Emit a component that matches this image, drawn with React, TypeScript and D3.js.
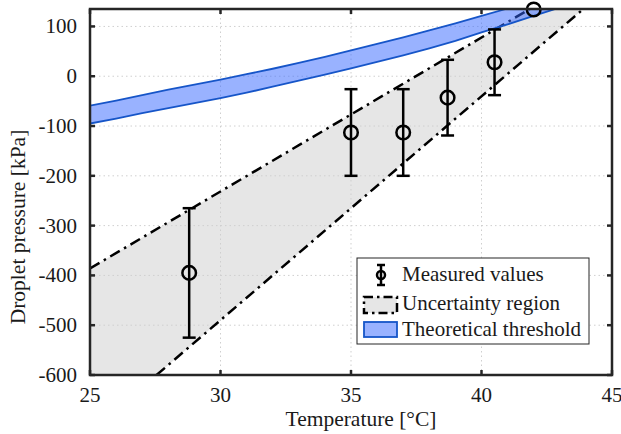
import React from 'react';
import * as d3 from 'd3';

const xTicks = [25, 30, 35, 40, 45];
const yTicks = [-600, -500, -400, -300, -200, -100, 0, 100];

const measTemp = [28.8, 35, 37, 38.7, 40.5, 42];
const measP = [-395, -113, -113, -43, 28, 134];
const measErr = [130, 87, 87, 76, 66, 0];

const bandTemp = [25, 26, 27, 28, 29, 30, 31, 32, 33, 34, 35, 36, 37, 38, 39, 40, 41, 42, 43];
const bandUpper = [-59, -49, -38, -27, -17, -7, 4, 15, 27, 39, 52, 65, 78, 92, 106, 121, 136, 151, 166];
const bandLower = [-95, -85, -74, -64, -54, -44, -33, -21, -9, 3, 16, 29, 42, 56, 71, 88, 104, 121, 138];

const uncUpperT = [25, 41.85];
const uncUpperP = [-386, 135];
const uncLowerT = [27.55, 43.9];
const uncLowerP = [-600, 135];

const legendLabels = ['Measured values', 'Uncertainty region', 'Theoretical threshold'];

const W = 621, H = 434;
const L = 90, R = 612, T = 9, B = 375;
const FONT = '"Liberation Serif", "Times New Roman", serif';
const AX = '#262626';
const BAND_FILL = '#3366ff';
const BAND_EDGE = '#1655c8';
const DASHDOT = '11,5,2.5,5';

export default function App() {
  const x = d3.scaleLinear().domain([25, 45]).range([L, R]);
  const y = d3.scaleLinear().domain([-600, 135]).range([B, T]);

  const polyPts: [number, number][] = [
    [uncUpperT[0], uncUpperP[0]],
    [uncUpperT[1], uncUpperP[1]],
    [uncLowerT[1], uncLowerP[1]],
    [uncLowerT[0], uncLowerP[0]],
    [25, -600],
  ];
  const polyStr = polyPts.map(p => `${x(p[0])},${y(p[1])}`).join(' ');

  const idx = bandTemp.map((_, i) => i);
  const area = d3.area<number>().x(i => x(bandTemp[i])).y0(i => y(bandLower[i])).y1(i => y(bandUpper[i]));
  const upLine = d3.line<number>().x(i => x(bandTemp[i])).y(i => y(bandUpper[i]));
  const loLine = d3.line<number>().x(i => x(bandTemp[i])).y(i => y(bandLower[i]));

  const tick = 5;
  return (
    <div style={{ position: 'absolute', left: 0, top: 0 }}>
      <svg width={W} height={H} style={{ display: 'block', background: '#fff' }}>
        <defs>
          <clipPath id="plotclip">
            <rect x={L} y={T} width={R - L} height={B - T} />
          </clipPath>
        </defs>
        <g clipPath="url(#plotclip)">
          <polygon points={polyStr} fill="#e6e6e6" stroke="none" />
          {xTicks.map(t => (
            <line key={'gx' + t} x1={x(t)} x2={x(t)} y1={T} y2={B} stroke="#cfcfcf" strokeWidth={1} strokeDasharray="1.5,3" />
          ))}
          {yTicks.map(t => (
            <line key={'gy' + t} x1={L} x2={R} y1={y(t)} y2={y(t)} stroke="#cfcfcf" strokeWidth={1} strokeDasharray="1.5,3" />
          ))}
          <line x1={x(uncUpperT[0])} y1={y(uncUpperP[0])} x2={x(uncUpperT[1])} y2={y(uncUpperP[1])}
            stroke="#000" strokeWidth={2.5} strokeDasharray={DASHDOT} />
          <line x1={x(uncLowerT[0])} y1={y(uncLowerP[0])} x2={x(uncLowerT[1])} y2={y(uncLowerP[1])}
            stroke="#000" strokeWidth={2.5} strokeDasharray={DASHDOT} />
          <path d={area(idx) || ''} fill={BAND_FILL} fillOpacity={0.5} stroke="none" />
          <path d={upLine(idx) || ''} fill="none" stroke={BAND_EDGE} strokeWidth={1.8} />
          <path d={loLine(idx) || ''} fill="none" stroke={BAND_EDGE} strokeWidth={1.8} />
        </g>
        {measTemp.map((t, i) => {
          const cx = x(t), cy = y(measP[i]);
          const e = measErr[i];
          return (
            <g key={'m' + i}>
              {e > 0 && (
                <>
                  <line x1={cx} x2={cx} y1={y(measP[i] + e)} y2={y(measP[i] - e)} stroke="#000" strokeWidth={2.5} />
                  <line x1={cx - 6.5} x2={cx + 6.5} y1={y(measP[i] + e)} y2={y(measP[i] + e)} stroke="#000" strokeWidth={2.5} />
                  <line x1={cx - 6.5} x2={cx + 6.5} y1={y(measP[i] - e)} y2={y(measP[i] - e)} stroke="#000" strokeWidth={2.5} />
                </>
              )}
              <circle cx={cx} cy={cy} r={6.8} fill="none" stroke="#000" strokeWidth={2.5} />
            </g>
          );
        })}
        {/* axes frame and ticks */}
        <rect x={L} y={T} width={R - L} height={B - T} fill="none" stroke={AX} strokeWidth={2.5} />
        {xTicks.map(t => (
          <g key={'tx' + t}>
            <line x1={x(t)} x2={x(t)} y1={B} y2={B - tick} stroke={AX} strokeWidth={2.5} />
            <line x1={x(t)} x2={x(t)} y1={T} y2={T + tick} stroke={AX} strokeWidth={2.5} />
            <text x={x(t)} y={402} textAnchor="middle" fontFamily={FONT} fontSize={21} fill="#1a1a1a">{t}</text>
          </g>
        ))}
        {yTicks.map(t => (
          <g key={'ty' + t}>
            <line x1={L} x2={L + tick} y1={y(t)} y2={y(t)} stroke={AX} strokeWidth={2.5} />
            <line x1={R} x2={R - tick} y1={y(t)} y2={y(t)} stroke={AX} strokeWidth={2.5} />
            <text x={77} y={y(t) + 7} textAnchor="end" fontFamily={FONT} fontSize={21} fill="#1a1a1a">{t}</text>
          </g>
        ))}
        <text x={361} y={426} textAnchor="middle" fontFamily={FONT} fontSize={21.5} fill="#1a1a1a">Temperature [°C]</text>
        <text transform={`translate(25,227) rotate(-90)`} textAnchor="middle" fontFamily={FONT} fontSize={21.5} fill="#1a1a1a">Droplet pressure [kPa]</text>
        {/* legend */}
        <rect x={357} y={258} width={232} height={86} fill="#fff" stroke={AX} strokeWidth={1} />
        <g>
          <line x1={381} x2={381} y1={265} y2={285} stroke="#000" strokeWidth={2.5} />
          <line x1={377} x2={385} y1={265} y2={265} stroke="#000" strokeWidth={2.5} />
          <line x1={377} x2={385} y1={285} y2={285} stroke="#000" strokeWidth={2.5} />
          <circle cx={381} cy={275} r={4} fill="none" stroke="#000" strokeWidth={2.5} />
          <text x={402} y={281} fontFamily={FONT} fontSize={21} fill="#1a1a1a">{legendLabels[0]}</text>
        </g>
        <g>
          <rect x={364} y={297} width={33} height={16} fill="#e6e6e6" stroke="#000" strokeWidth={2.5} strokeDasharray="9,4,2.5,4" />
          <text x={402} y={310} fontFamily={FONT} fontSize={21} fill="#1a1a1a">{legendLabels[1]}</text>
        </g>
        <g>
          <rect x={364} y={322} width={33} height={15} fill={BAND_FILL} fillOpacity={0.5} stroke={BAND_EDGE} strokeWidth={1.8} />
          <text x={402} y={336} fontFamily={FONT} fontSize={21} fill="#1a1a1a">{legendLabels[2]}</text>
        </g>
      </svg>
    </div>
  );
}
